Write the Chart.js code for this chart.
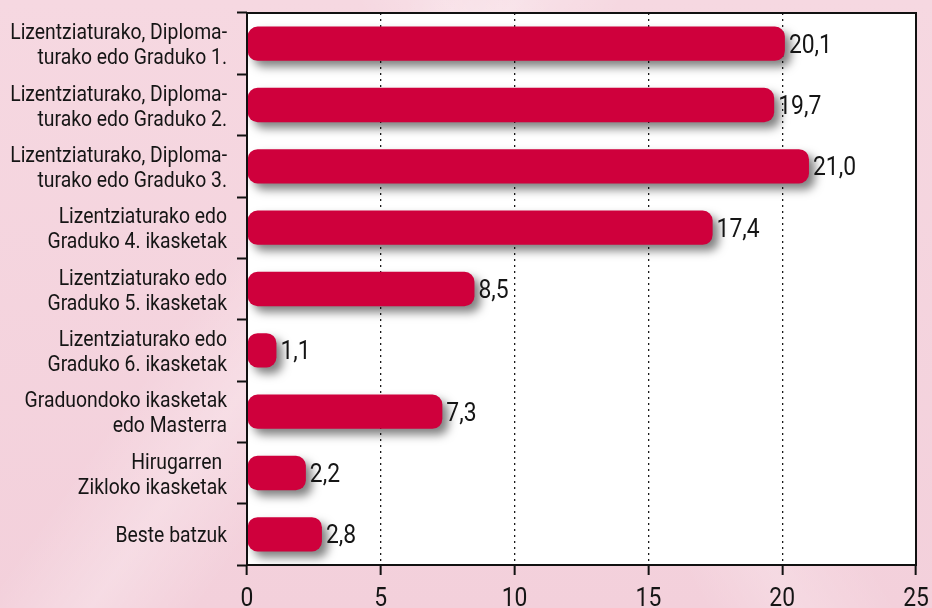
<!DOCTYPE html>
<html>
<head>
<meta charset="utf-8">
<script src="https://cdn.jsdelivr.net/npm/chart.js@4.4.1/dist/chart.umd.min.js"></script>
<style>
    body {
        margin: 0;
        width: 932px;
        height: 608px;
        overflow: hidden;
        background:
            linear-gradient(125deg, rgba(255,255,255,0) 30%, rgba(255,255,255,0.25) 38%, rgba(255,255,255,0) 46%),
            linear-gradient(60deg, rgba(255,255,255,0) 55%, rgba(255,255,255,0.2) 62%, rgba(255,255,255,0) 70%),
            linear-gradient(180deg, #f6d8e1 0%, #f3d0db 100%);
    }
    canvas { display: block; }
</style>
</head>
<body>
<canvas id="statChart" width="932" height="608"></canvas>
<script>
// chart data
const categories = [
    ['Lizentziaturako, Diploma-', 'turako edo Graduko 1.'],
    ['Lizentziaturako, Diploma-', 'turako edo Graduko 2.'],
    ['Lizentziaturako, Diploma-', 'turako edo Graduko 3.'],
    ['Lizentziaturako edo', 'Graduko 4. ikasketak'],
    ['Lizentziaturako edo', 'Graduko 5. ikasketak'],
    ['Lizentziaturako edo', 'Graduko 6. ikasketak'],
    ['Graduondoko ikasketak', 'edo Masterra'],
    ['Hirugarren ', 'Zikloko ikasketak'],
    ['Beste batzuk']
];
const values = [20.1, 19.7, 21.0, 17.4, 8.5, 1.1, 7.3, 2.2, 2.8];
const xTicks = [0, 5, 10, 15, 20, 25];

const fontFamily = 'Roboto, "DejaVu Sans Condensed", sans-serif';
const squeeze = 0.88;   // DIN-ish condensed look

// draw condensed text; align 'left' | 'right' | 'center'
function drawText(ctx, text, x, y, size, align) {
    ctx.save();
    ctx.font = size + 'px ' + fontFamily;
    ctx.textBaseline = 'alphabetic';
    ctx.textAlign = 'left';
    var w = ctx.measureText(text).width * squeeze;
    var startX = x;
    if (align == 'right') startX = x - w;
    if (align == 'center') startX = x - w / 2;
    ctx.translate(startX, y);
    ctx.scale(squeeze, 1);
    ctx.fillText(text, 0, 0);
    ctx.restore();
}

/* white plot area + frame */
const plotArea = {
    id: 'plotArea',
    beforeDraw: function(chart) {
        const a = chart.chartArea;
        const ctx = chart.ctx;
        ctx.save();
        ctx.fillStyle = '#ffffff';
        ctx.fillRect(a.left, a.top, a.right - a.left, a.bottom - a.top);
        ctx.restore();
    },
    afterDraw: function(chart) {
        const a = chart.chartArea;
        const ctx = chart.ctx;
        ctx.save();
        ctx.strokeStyle = '#111';
        ctx.lineWidth = 2;
        ctx.strokeRect(a.left, a.top, a.right - a.left, a.bottom - a.top);
        ctx.restore();
    }
};

/* drop shadow under bars */
const barShadow = {
    id: 'barShadow',
    beforeDatasetsDraw: function(chart) {
        const ctx = chart.ctx;
        ctx.save();
        ctx.shadowColor = 'rgba(0, 0, 0, 0.5)';
        ctx.shadowBlur = 10;
        ctx.shadowOffsetX = 6;
        ctx.shadowOffsetY = 6;
    },
    afterDatasetsDraw: function(chart) {
        chart.ctx.restore();
    }
};

/* value labels, category labels and x tick labels */
const textLabels = {
    id: 'textLabels',
    afterDraw: function(chart) {
        const ctx = chart.ctx;
        const meta = chart.getDatasetMeta(0);
        const yScale = chart.scales.y;
        const xScale = chart.scales.x;
        ctx.save();
        ctx.fillStyle = '#151515';
        meta.data.forEach(function(bar, i) {
            drawText(ctx, values[i].toFixed(1).replace('.', ','), bar.x + 4, bar.y + 9, 26, 'left');
        });
        categories.forEach(function(lines, i) {
            var cy = yScale.getPixelForValue(i);
            var first = cy - (lines.length - 1) * 12.5;
            lines.forEach(function(line, j) {
                drawText(ctx, line, 227, first + j * 25 + 8, 22, 'right');
            });
        });
        xTicks.forEach(function(v) {
            drawText(ctx, String(v), xScale.getPixelForValue(v), 606, 26, 'center');
        });
        ctx.restore();
    }
};

const ctx = document.getElementById('statChart').getContext('2d');
const chart = new Chart(ctx, {
    type: 'bar',
    data: {
        labels: categories,
        datasets: [{
            data: values,
            backgroundColor: '#cf003c',
            borderRadius: 10,
            borderSkipped: false,
            categoryPercentage: 0.56,
            barPercentage: 1
        }]
    },
    options: {
        indexAxis: 'y',
        responsive: false,
        animation: false,
        layout: {
            padding: { left: 0, top: 13, right: 16, bottom: 0 }
        },
        plugins: {
            legend: { display: false },
            tooltip: { enabled: false }
        },
        scales: {
            x: {
                min: 0,
                max: 25,
                afterBuildTicks: function(scale) {
                    scale.ticks = xTicks.map(function(v) { return { value: v }; });
                },
                afterFit: function(scale) {
                    scale.height = 43;
                },
                grid: {
                    color: function(c) {
                        const v = c.tick ? c.tick.value : 0;
                        return (v === 0 || v === 25) ? 'rgba(0,0,0,0)' : '#1a1a1a';
                    },
                    lineWidth: 1.3,
                    tickColor: '#111',
                    tickWidth: 2,
                    tickLength: 10
                },
                border: { display: false, dash: [2, 4] },
                ticks: { display: false }
            },
            y: {
                afterFit: function(scale) {
                    scale.width = 247;
                },
                grid: {
                    offset: true,
                    drawOnChartArea: false,
                    tickColor: '#111',
                    tickWidth: 2,
                    tickLength: 10
                },
                border: { display: false },
                ticks: { display: false }
            }
        }
    },
    plugins: [plotArea, barShadow, textLabels]
});
</script>
</body>
</html>
